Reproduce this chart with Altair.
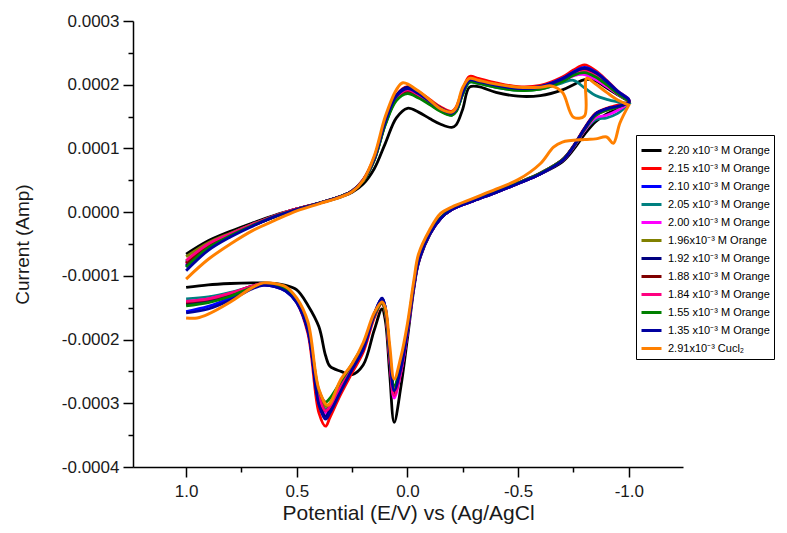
import altair as alt
import pandas as pd

SERIES = [
    "2.20 x10⁻³ M Orange", "2.15 x10⁻³ M Orange", "2.10 x10⁻³ M Orange",
    "2.05 x10⁻³ M Orange", "2.00 x10⁻³ M Orange", "1.96x10⁻³ M Orange",
    "1.92 x10⁻³ M Orange", "1.88 x10⁻³ M Orange", "1.84 x10⁻³ M Orange",
    "1.55 x10⁻³ M Orange", "1.35 x10⁻³ M Orange", "2.91x10⁻³ Cucl₂",
]
COLORS = ["#000000", "#FF0000", "#0000FF", "#008080", "#FF00FF", "#808000",
          "#000080", "#800000", "#FF0080", "#008000", "#0000A0", "#FF8000"]

# potential grids (V)
E_FWD = [1.0, 0.9, 0.8, 0.7, 0.6, 0.5, 0.4, 0.3, 0.25, 0.2, 0.15, 0.1, 0.05, 0.0,
         -0.05, -0.1, -0.15, -0.2, -0.22, -0.25, -0.28, -0.32, -0.4, -0.5, -0.6,
         -0.7, -0.75, -0.8, -0.85, -0.9, -0.95, -1.0]
E_REV = [-1.0, -0.95, -0.9, -0.85, -0.8, -0.75, -0.7, -0.6, -0.5, -0.4, -0.3, -0.2,
         -0.15, -0.1, -0.05, -0.03, 0.0, 0.03, 0.06, 0.08, 0.1, 0.115, 0.15, 0.2,
         0.25, 0.3, 0.35, 0.37, 0.4, 0.45, 0.5, 0.55, 0.6, 0.65, 0.7, 0.8, 0.9, 1.0]

# currents in units of 1e-4 A
FWD_220 = [-0.66, -0.45, -0.30, -0.17, -0.05, 0.05, 0.14, 0.24, 0.31, 0.44, 0.68, 1.08, 1.48, 1.63, 1.57, 1.47, 1.38, 1.33, 1.37, 1.62, 1.96, 1.97, 1.88, 1.82, 1.83, 1.92, 2.00, 2.08, 2.06, 1.95, 1.84, 1.73]
REV_220 = [1.70, 1.62, 1.54, 1.42, 1.22, 0.98, 0.79, 0.60, 0.45, 0.31, 0.18, 0.04, -0.10, -0.36, -0.80, -1.18, -1.98, -2.75, -3.30, -2.55, -1.70, -1.52, -1.85, -2.40, -2.55, -2.50, -2.42, -2.25, -1.80, -1.46, -1.22, -1.15, -1.12, -1.11, -1.11, -1.12, -1.14, -1.18]
FWD_215 = [-0.80, -0.53, -0.36, -0.21, -0.07, 0.05, 0.14, 0.25, 0.33, 0.51, 0.86, 1.44, 1.84, 1.97, 1.89, 1.77, 1.65, 1.58, 1.65, 1.93, 2.13, 2.10, 2.03, 1.97, 1.99, 2.12, 2.23, 2.31, 2.22, 2.07, 1.90, 1.77]
REV_215 = [1.74, 1.68, 1.63, 1.55, 1.32, 1.04, 0.82, 0.60, 0.45, 0.31, 0.18, 0.04, -0.10, -0.35, -0.78, -1.14, -1.88, -2.50, -2.85, -2.30, -1.58, -1.43, -1.66, -2.20, -2.52, -2.85, -3.22, -3.36, -3.15, -1.90, -1.42, -1.22, -1.16, -1.14, -1.18, -1.30, -1.38, -1.42]
FWD_210 = [-0.86, -0.56, -0.37, -0.21, -0.07, 0.04, 0.14, 0.25, 0.33, 0.50, 0.85, 1.43, 1.83, 1.95, 1.87, 1.75, 1.63, 1.56, 1.62, 1.90, 2.08, 2.06, 2.00, 1.95, 1.97, 2.10, 2.20, 2.27, 2.20, 2.06, 1.90, 1.77]
REV_210 = [1.72, 1.66, 1.62, 1.54, 1.30, 1.02, 0.81, 0.60, 0.45, 0.31, 0.18, 0.04, -0.10, -0.35, -0.78, -1.14, -1.87, -2.47, -2.80, -2.22, -1.50, -1.35, -1.60, -2.15, -2.46, -2.78, -3.12, -3.22, -3.00, -1.85, -1.42, -1.24, -1.17, -1.14, -1.18, -1.35, -1.48, -1.56]
FWD_205 = [-0.78, -0.51, -0.34, -0.19, -0.06, 0.05, 0.14, 0.25, 0.33, 0.49, 0.82, 1.38, 1.77, 1.88, 1.81, 1.70, 1.59, 1.52, 1.58, 1.85, 2.04, 2.02, 1.96, 1.91, 1.93, 2.03, 2.07, 1.95, 1.83, 1.77, 1.73, 1.70]
REV_205 = [1.70, 1.55, 1.48, 1.45, 1.28, 1.02, 0.82, 0.61, 0.46, 0.32, 0.19, 0.05, -0.09, -0.34, -0.76, -1.12, -1.84, -2.42, -2.75, -2.22, -1.55, -1.40, -1.62, -2.12, -2.42, -2.70, -3.02, -3.10, -2.88, -1.82, -1.40, -1.22, -1.15, -1.12, -1.16, -1.26, -1.33, -1.36]
FWD_200 = [-0.82, -0.53, -0.35, -0.20, -0.06, 0.05, 0.14, 0.25, 0.33, 0.50, 0.83, 1.40, 1.80, 1.92, 1.84, 1.72, 1.61, 1.54, 1.60, 1.87, 2.06, 2.04, 1.98, 1.93, 1.95, 2.06, 2.14, 2.16, 2.08, 1.97, 1.85, 1.74]
REV_200 = [1.72, 1.60, 1.52, 1.48, 1.28, 1.02, 0.81, 0.60, 0.45, 0.31, 0.18, 0.04, -0.10, -0.35, -0.78, -1.14, -1.88, -2.52, -2.92, -2.30, -1.56, -1.40, -1.62, -2.13, -2.44, -2.74, -3.08, -3.15, -2.92, -1.85, -1.40, -1.22, -1.15, -1.12, -1.16, -1.28, -1.36, -1.40]
FWD_196 = [-0.70, -0.48, -0.33, -0.19, -0.06, 0.05, 0.14, 0.25, 0.33, 0.49, 0.82, 1.39, 1.78, 1.90, 1.82, 1.71, 1.60, 1.53, 1.59, 1.86, 2.05, 2.03, 1.97, 1.92, 1.94, 2.06, 2.15, 2.20, 2.13, 2.00, 1.86, 1.74]
REV_196 = [1.72, 1.65, 1.60, 1.52, 1.30, 1.03, 0.82, 0.61, 0.46, 0.32, 0.19, 0.05, -0.09, -0.34, -0.76, -1.12, -1.84, -2.42, -2.78, -2.24, -1.55, -1.41, -1.63, -2.12, -2.42, -2.70, -3.00, -3.05, -2.85, -1.82, -1.40, -1.22, -1.15, -1.12, -1.16, -1.28, -1.38, -1.42]
FWD_192 = [-0.84, -0.55, -0.36, -0.21, -0.07, 0.04, 0.14, 0.25, 0.33, 0.50, 0.85, 1.43, 1.83, 1.96, 1.87, 1.75, 1.63, 1.56, 1.62, 1.89, 2.08, 2.06, 2.00, 1.95, 1.97, 2.09, 2.19, 2.25, 2.18, 2.05, 1.89, 1.76]
REV_192 = [1.72, 1.66, 1.62, 1.54, 1.31, 1.03, 0.81, 0.60, 0.45, 0.31, 0.18, 0.04, -0.10, -0.35, -0.78, -1.14, -1.87, -2.48, -2.85, -2.25, -1.50, -1.35, -1.60, -2.14, -2.45, -2.77, -3.10, -3.20, -2.98, -1.85, -1.41, -1.23, -1.16, -1.13, -1.17, -1.30, -1.40, -1.45]
FWD_188 = [-0.80, -0.52, -0.35, -0.20, -0.06, 0.05, 0.14, 0.25, 0.33, 0.50, 0.83, 1.40, 1.79, 1.90, 1.83, 1.72, 1.60, 1.54, 1.60, 1.87, 2.06, 2.04, 1.98, 1.93, 1.95, 2.07, 2.16, 2.22, 2.15, 2.02, 1.87, 1.75]
REV_188 = [1.72, 1.66, 1.61, 1.53, 1.30, 1.03, 0.82, 0.61, 0.46, 0.32, 0.19, 0.05, -0.09, -0.34, -0.77, -1.13, -1.86, -2.46, -2.82, -2.26, -1.55, -1.40, -1.62, -2.13, -2.43, -2.72, -3.05, -3.12, -2.90, -1.84, -1.40, -1.22, -1.15, -1.12, -1.16, -1.28, -1.37, -1.42]
FWD_184 = [-0.76, -0.50, -0.34, -0.19, -0.06, 0.05, 0.14, 0.25, 0.33, 0.50, 0.83, 1.40, 1.80, 1.92, 1.84, 1.72, 1.61, 1.54, 1.60, 1.87, 2.06, 2.04, 1.98, 1.93, 1.95, 2.07, 2.16, 2.21, 2.14, 2.01, 1.87, 1.75]
REV_184 = [1.72, 1.66, 1.61, 1.53, 1.30, 1.03, 0.82, 0.61, 0.46, 0.32, 0.19, 0.05, -0.09, -0.34, -0.77, -1.13, -1.87, -2.50, -2.88, -2.28, -1.55, -1.40, -1.62, -2.13, -2.43, -2.72, -3.05, -3.12, -2.90, -1.84, -1.40, -1.22, -1.15, -1.12, -1.16, -1.27, -1.36, -1.40]
FWD_155 = [-0.86, -0.56, -0.37, -0.21, -0.07, 0.04, 0.14, 0.25, 0.33, 0.49, 0.82, 1.37, 1.75, 1.86, 1.79, 1.69, 1.58, 1.52, 1.58, 1.85, 2.04, 2.02, 1.96, 1.91, 1.93, 2.05, 2.15, 2.19, 2.12, 2.00, 1.86, 1.74]
REV_155 = [1.72, 1.65, 1.60, 1.52, 1.30, 1.03, 0.82, 0.61, 0.46, 0.32, 0.19, 0.05, -0.09, -0.34, -0.76, -1.11, -1.82, -2.40, -2.72, -2.22, -1.56, -1.42, -1.62, -2.08, -2.38, -2.65, -2.92, -2.98, -2.80, -1.80, -1.38, -1.21, -1.15, -1.13, -1.18, -1.32, -1.42, -1.47]
FWD_135 = [-0.92, -0.60, -0.39, -0.22, -0.07, 0.04, 0.14, 0.25, 0.33, 0.50, 0.84, 1.42, 1.82, 1.94, 1.86, 1.74, 1.62, 1.55, 1.61, 1.88, 2.07, 2.05, 1.99, 1.94, 1.96, 2.09, 2.19, 2.26, 2.19, 2.05, 1.89, 1.76]
REV_135 = [1.72, 1.66, 1.62, 1.54, 1.31, 1.03, 0.81, 0.60, 0.45, 0.31, 0.18, 0.04, -0.10, -0.35, -0.78, -1.14, -1.87, -2.46, -2.80, -2.22, -1.50, -1.36, -1.61, -2.15, -2.47, -2.80, -3.15, -3.25, -3.02, -1.86, -1.42, -1.24, -1.17, -1.15, -1.20, -1.38, -1.52, -1.58]

# CuCl2 curve has its own potential points
E_CU_FWD = [1.0, 0.9, 0.8, 0.7, 0.6, 0.5, 0.4, 0.3, 0.25, 0.2, 0.15, 0.1, 0.05, 0.02,
            -0.05, -0.1, -0.15, -0.2, -0.22, -0.25, -0.28, -0.32, -0.4, -0.5, -0.6,
            -0.65, -0.7, -0.75, -0.8, -0.81, -0.85, -0.9, -0.95, -1.0]
I_CU_FWD = [-1.05, -0.74, -0.50, -0.29, -0.13, 0.02, 0.13, 0.24, 0.32, 0.50, 0.88, 1.50, 1.92, 2.03, 1.90, 1.76, 1.62, 1.57, 1.64, 1.96, 2.10, 2.07, 2.01, 1.96, 1.96, 1.98, 1.88, 1.49, 1.51, 2.10, 2.01, 1.88, 1.76, 1.68]
E_CU_REV = [-1.0, -0.96, -0.93, -0.9, -0.85, -0.8, -0.7, -0.66, -0.6, -0.5, -0.4, -0.3, -0.2,
            -0.15, -0.1, -0.05, -0.03, 0.0, 0.03, 0.06, 0.08, 0.1, 0.115, 0.15, 0.2, 0.25,
            0.3, 0.36, 0.4, 0.45, 0.5, 0.55, 0.6, 0.65, 0.7, 0.8, 0.9, 0.95, 1.0]
I_CU_REV = [1.68, 1.40, 1.08, 1.18, 1.15, 1.14, 1.10, 1.02, 0.76, 0.51, 0.36, 0.22, 0.08, -0.02, -0.28, -0.66, -1.05, -1.75, -2.28, -2.62, -2.10, -1.50, -1.41, -1.58, -2.05, -2.38, -2.62, -3.03, -2.78, -1.72, -1.35, -1.17, -1.12, -1.11, -1.18, -1.41, -1.60, -1.66, -1.66]

CURVES = [
    (E_FWD, FWD_220, E_REV, REV_220), (E_FWD, FWD_215, E_REV, REV_215),
    (E_FWD, FWD_210, E_REV, REV_210), (E_FWD, FWD_205, E_REV, REV_205),
    (E_FWD, FWD_200, E_REV, REV_200), (E_FWD, FWD_196, E_REV, REV_196),
    (E_FWD, FWD_192, E_REV, REV_192), (E_FWD, FWD_188, E_REV, REV_188),
    (E_FWD, FWD_184, E_REV, REV_184), (E_FWD, FWD_155, E_REV, REV_155),
    (E_FWD, FWD_135, E_REV, REV_135), (E_CU_FWD, I_CU_FWD, E_CU_REV, I_CU_REV),
]

X_TICKS = [1.0, 0.75, 0.5, 0.25, 0.0, -0.25, -0.5, -0.75, -1.0]
Y_TICKS = [-0.0004, -0.00035, -0.0003, -0.00025, -0.0002, -0.00015, -0.0001, -0.00005,
           0.0, 0.00005, 0.0001, 0.00015, 0.0002, 0.00025, 0.0003]

rows = []
for name, (ef, i_f, er, i_r) in zip(SERIES, CURVES):
    k = 0
    for e, i in list(zip(ef, i_f)) + list(zip(er, i_r)):
        rows.append({"s": name, "E": e, "I": i * 1e-4, "k": k})
        k += 1
df = pd.DataFrame(rows)

FONT = "Liberation Sans"
x_major = "abs(datum.value*2 - round(datum.value*2)) < 0.01"
y_major = "abs(datum.value*10000 - round(datum.value*10000)) < 0.01"

x_enc = alt.X(
    "E:Q",
    scale=alt.Scale(domain=[-1.245, 1.24], reverse=True, nice=False, zero=False),
    axis=alt.Axis(
        values=X_TICKS, title="Potential (E/V) vs (Ag/AgCl",
        labelExpr=f"{x_major} ? replace(format(datum.value, '.1f'), '\u2212', '-') : ''",
        tickSize={"condition": {"test": x_major, "value": 10}, "value": 5},
        labelPadding=6, titleFontSize=21, titlePadding=3, labelFlush=False,
        labelOverlap=False,
    ),
)
y_enc = alt.Y(
    "I:Q",
    scale=alt.Scale(domain=[-0.0004, 0.0003], nice=False, zero=False),
    axis=alt.Axis(
        values=Y_TICKS, title="Current (Amp)",
        labelExpr=f"{y_major} ? replace(format(datum.value, '.4f'), '\u2212', '-') : ''",
        tickSize={"condition": {"test": y_major, "value": 10}, "value": 5},
        labelPadding=4, titleFontSize=19, titlePadding=29, labelFlush=False,
        labelOverlap=False,
    ),
)
color_enc = alt.Color(
    "s:N",
    scale=alt.Scale(domain=SERIES, range=COLORS),
    legend=alt.Legend(
        title=None, orient="none", legendX=503, legendY=114,
        symbolType="stroke", symbolStrokeWidth=3, symbolSize=400,
        labelFont=FONT, labelFontSize=11, labelColor="black", labelOffset=5,
        rowPadding=0, padding=4, strokeColor="black", fillColor="white",
        cornerRadius=0, labelLimit=300,
    ),
)

base = alt.Chart(df)
main = base.transform_filter(alt.datum.s != SERIES[-1]).mark_line(
    interpolate="catmull-rom", strokeWidth=2.8
).encode(x=x_enc, y=y_enc, color=color_enc, order="k:Q")
cu = base.transform_filter(alt.datum.s == SERIES[-1]).mark_line(
    interpolate="catmull-rom", strokeWidth=3
).encode(x=x_enc, y=y_enc, color=color_enc, order="k:Q")

chart = alt.layer(main, cu).properties(
    width=550, height=446,
    padding={"left": 125, "top": 13, "right": 96, "bottom": 58},
    autosize=alt.AutoSizeParams(type="none"),
).configure_view(stroke=None).configure_axis(
    labelFont=FONT, titleFont=FONT, labelFontSize=17, labelColor="#1a1a1a",
    titleColor="#1a1a1a", titleFontWeight="normal", domainColor="black",
    domainWidth=1.5, tickColor="black", tickWidth=1.5, grid=False,
)

chart.save("out.html", embed_options={"renderer": "svg", "actions": False})
